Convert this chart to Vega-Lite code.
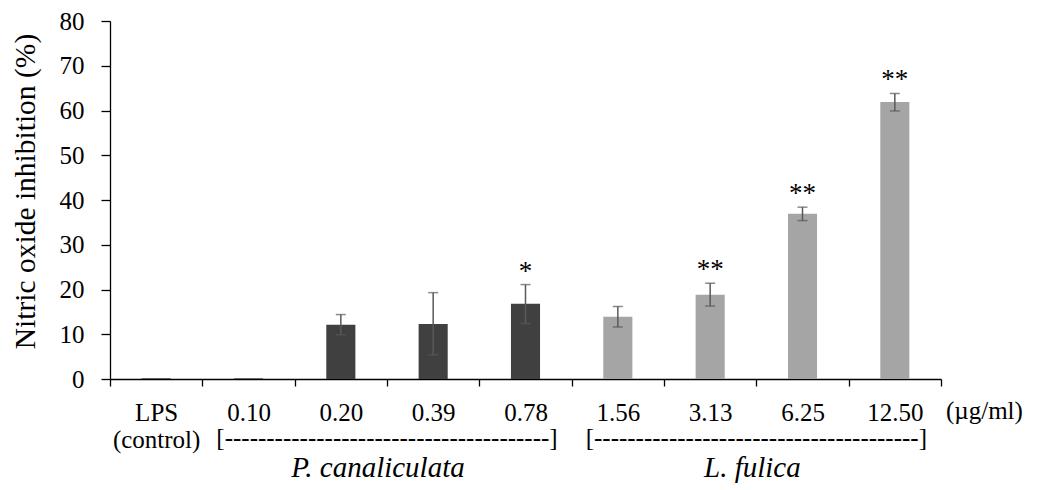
{
  "$schema": "https://vega.github.io/schema/vega-lite/v6.json",
  "width": 831,
  "height": 358,
  "autosize": "none",
  "padding": {"left": 110, "top": 21, "right": 102, "bottom": 111},
  "background": "white",
  "config": {
    "view": {"stroke": null},
    "font": "'Liberation Serif', 'Times New Roman', 'DejaVu Serif', serif",
    "axis": {
      "labelFont": "'Liberation Serif', 'Times New Roman', 'DejaVu Serif', serif",
      "titleFont": "'Liberation Serif', 'Times New Roman', 'DejaVu Serif', serif"
    },
    "text": {"font": "'Liberation Serif', 'Times New Roman', 'DejaVu Serif', serif"}
  },
  "datasets": {
    "main": [
      {"dose": "LPS", "group": "LPS", "v": 0.15, "lo": null, "hi": null, "sig": null},
      {"dose": "0.10", "group": "P. canaliculata", "v": 0.15, "lo": null, "hi": null, "sig": null},
      {"dose": "0.20", "group": "P. canaliculata", "v": 12.1, "lo": 9.9, "hi": 14.4, "sig": null},
      {"dose": "0.39", "group": "P. canaliculata", "v": 12.3, "lo": 5.4, "hi": 19.3, "sig": null},
      {"dose": "0.78", "group": "P. canaliculata", "v": 16.8, "lo": 12.4, "hi": 21.1, "sig": "*"},
      {"dose": "1.56", "group": "L. fulica", "v": 13.9, "lo": 11.6, "hi": 16.2, "sig": null},
      {"dose": "3.13", "group": "L. fulica", "v": 18.8, "lo": 16.3, "hi": 21.4, "sig": "**"},
      {"dose": "6.25", "group": "L. fulica", "v": 36.9, "lo": 35.4, "hi": 38.4, "sig": "**"},
      {"dose": "12.50", "group": "L. fulica", "v": 61.9, "lo": 59.9, "hi": 63.8, "sig": "**"}
    ],
    "groups": [
      {"dose": "0.39", "name": "P. canaliculata", "bracket": "[---------------------------------------]"},
      {"dose": "6.25", "name": "L. fulica", "bracket": "[---------------------------------------]"}
    ],
    "unit": [
      {"dose": "12.50", "label": "(µg/ml)"}
    ]
  },
  "data": {"name": "main"},
  "layer": [
    {
      "mark": {"type": "bar", "width": {"band": 0.315}},
      "encoding": {
        "x": {
          "field": "dose", "type": "nominal", "sort": null,
          "scale": {"domain": ["LPS", "0.10", "0.20", "0.39", "0.78", "1.56", "3.13", "6.25", "12.50"], "paddingInner": 0, "paddingOuter": 0},
          "axis": {
            "title": null, "tickBand": "extent", "labelAngle": 0,
            "labelFontSize": 25, "labelColor": "black",
            "labelPadding": 14, "tickSize": 7, "tickColor": "black", "tickWidth": 1.3,
            "domainColor": "black", "domainWidth": 1.3,
            "labelExpr": "datum.value == 'LPS' ? ['LPS', '(control)'] : datum.value",
            "labelLineHeight": 27, "labelBaseline": "top"
          }
        },
        "y": {
          "field": "v", "type": "quantitative",
          "title": "Nitric oxide inhibition (%)",
          "scale": {"domain": [0, 80]},
          "axis": {
            "title": "Nitric oxide inhibition (%)",
            "values": [0, 10, 20, 30, 40, 50, 60, 70, 80],
            "grid": false, "tickSize": 9, "labelPadding": 17,
            "labelFontSize": 25, "labelColor": "black",
            "titleFontSize": 29.5, "titleFontWeight": "normal",
            "titleColor": "black", "titlePadding": 19, "titleY": 170,
            "domainColor": "black", "domainWidth": 1.3, "tickColor": "black", "tickWidth": 1.3
          }
        },
        "color": {
          "field": "group", "type": "nominal",
          "scale": {"domain": ["LPS", "P. canaliculata", "L. fulica"], "range": ["#404040", "#404040", "#A5A5A5"]},
          "legend": null
        }
      }
    },
    {
      "transform": [{"filter": "datum.hi != null"}],
      "mark": {
        "type": "errorbar",
        "ticks": {"size": 10, "thickness": 1.5, "color": "#595959"},
        "rule": {"strokeWidth": 1.5, "color": "#595959"}
      },
      "encoding": {
        "x": {"field": "dose", "type": "nominal", "sort": null, "scale": {"domain": ["LPS", "0.10", "0.20", "0.39", "0.78", "1.56", "3.13", "6.25", "12.50"]}},
        "y": {"field": "lo", "type": "quantitative", "title": "Nitric oxide inhibition (%)"},
        "y2": {"field": "hi"}
      }
    },
    {
      "transform": [{"filter": "datum.sig != null"}],
      "mark": {"type": "text", "fontSize": 27, "baseline": "alphabetic", "dy": -5, "color": "black"},
      "encoding": {
        "x": {"field": "dose", "type": "nominal", "sort": null, "scale": {"domain": ["LPS", "0.10", "0.20", "0.39", "0.78", "1.56", "3.13", "6.25", "12.50"]}},
        "y": {"field": "hi", "type": "quantitative", "title": "Nitric oxide inhibition (%)"},
        "text": {"field": "sig"}
      }
    },
    {
      "data": {"name": "groups"},
      "mark": {"type": "text", "fontSize": 25, "baseline": "alphabetic", "dy": 67, "color": "black"},
      "encoding": {
        "x": {"field": "dose", "type": "nominal", "sort": null, "bandPosition": 0, "scale": {"domain": ["LPS", "0.10", "0.20", "0.39", "0.78", "1.56", "3.13", "6.25", "12.50"]}},
        "y": {"datum": 0, "type": "quantitative"},
        "text": {"field": "bracket"}
      }
    },
    {
      "data": {"name": "groups"},
      "transform": [{"filter": "datum.name == 'P. canaliculata'"}],
      "mark": {"type": "text", "fontSize": 29, "fontStyle": "italic", "baseline": "alphabetic", "dy": 98, "dx": -9, "color": "black"},
      "encoding": {
        "x": {"field": "dose", "type": "nominal", "sort": null, "bandPosition": 0, "scale": {"domain": ["LPS", "0.10", "0.20", "0.39", "0.78", "1.56", "3.13", "6.25", "12.50"]}},
        "y": {"datum": 0, "type": "quantitative"},
        "text": {"field": "name"}
      }
    },
    {
      "data": {"name": "groups"},
      "transform": [{"filter": "datum.name == 'L. fulica'"}],
      "mark": {"type": "text", "fontSize": 29, "fontStyle": "italic", "baseline": "alphabetic", "dy": 98, "dx": -4, "color": "black"},
      "encoding": {
        "x": {"field": "dose", "type": "nominal", "sort": null, "bandPosition": 0, "scale": {"domain": ["LPS", "0.10", "0.20", "0.39", "0.78", "1.56", "3.13", "6.25", "12.50"]}},
        "y": {"datum": 0, "type": "quantitative"},
        "text": {"field": "name"}
      }
    },
    {
      "data": {"name": "unit"},
      "mark": {"type": "text", "fontSize": 25, "baseline": "alphabetic", "align": "left", "dx": 5, "dy": 40, "color": "black"},
      "encoding": {
        "x": {"field": "dose", "type": "nominal", "sort": null, "bandPosition": 1, "scale": {"domain": ["LPS", "0.10", "0.20", "0.39", "0.78", "1.56", "3.13", "6.25", "12.50"]}},
        "y": {"datum": 0, "type": "quantitative"},
        "text": {"field": "label"}
      }
    }
  ]
}
